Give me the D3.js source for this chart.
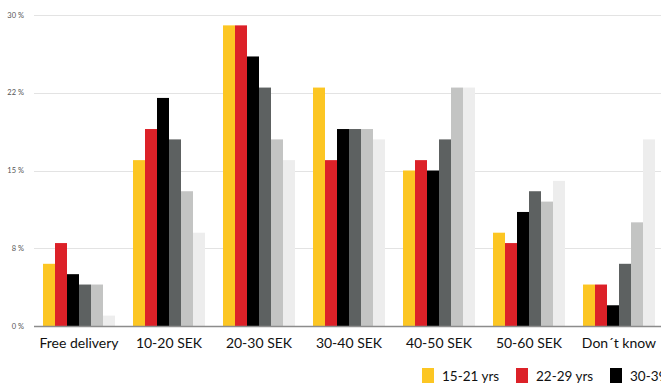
<!DOCTYPE html>
<html>
<head>
<meta charset="utf-8">
<script src="https://cdn.jsdelivr.net/npm/d3@7"></script>
<style>
  html, body { margin: 0; padding: 0; background: #fff; overflow: hidden; }
  svg { display: block; }
</style>
</head>
<body>
<svg id="chart" width="661" height="383"></svg>
<script>
// Price categories on the x axis
const categories = ["Free delivery", "10-20 SEK", "20-30 SEK", "30-40 SEK", "40-50 SEK", "50-60 SEK", "Don´t know"];
// Age groups (series)
const series = ["15-21 yrs", "22-29 yrs", "30-39 yrs", "40-49 yrs", "50-59 yrs", "60+ yrs"];
const seriesColors = ["#fcc623", "#dc2128", "#000000", "#5d6161", "#c3c4c3", "#ededed"];
// Share of respondents (%) per age group, one array per series, ordered by category
const age15to21 = [6, 16, 29, 23, 15, 9, 4];
const age22to29 = [8, 19, 29, 16, 16, 8, 4];
const age30to39 = [5, 22, 26, 19, 15, 11, 2];
const age40to49 = [4, 18, 23, 19, 18, 13, 6];
const age50to59 = [4, 13, 18, 19, 23, 12, 10];
const age60plus = [1, 9, 16, 18, 23, 14, 18];
const seriesValues = [age15to21, age22to29, age30to39, age40to49, age50to59, age60plus];
// Y axis ticks and their printed labels
const yTicks = [0, 7.5, 15, 22.5, 30];
const yTickLabels = ["0 %", "8 %", "15 %", "22 %", "30 %"];

const svg = d3.select("#chart");
const font = "Lato, 'Noto Sans', sans-serif";

const y = d3.scaleLinear().domain([0, 30]).range([326, 15]);
const x = d3.scaleBand().domain(categories).range([34, 664]).paddingInner(0.2).paddingOuter(0.1);
const xs = d3.scaleBand().domain(series).range([0, x.bandwidth()]);

// Horizontal gridlines
svg.append("g").selectAll("line")
  .data(yTicks.filter(t => t > 0))
  .join("line")
  .attr("x1", 34).attr("x2", 661)
  .attr("y1", d => Math.round(y(d)) + 0.5).attr("y2", d => Math.round(y(d)) + 0.5)
  .attr("stroke", "#e3e3e3").attr("stroke-width", 1.2);

// Y tick labels
svg.append("g").selectAll("text")
  .data(yTicks)
  .join("text")
  .attr("x", 24).attr("y", d => y(d) + 2.5)
  .attr("text-anchor", "end")
  .attr("font-family", font).attr("font-size", 7.5)
  .attr("fill", "#555")
  .text((d, i) => yTickLabels[i]);

// Bars
const groups = svg.append("g").selectAll("g")
  .data(categories)
  .join("g")
  .attr("transform", d => `translate(${x(d)},0)`);

groups.selectAll("rect")
  .data((c, ci) => series.map((s, si) => ({ s, si, v: seriesValues[si][ci] })))
  .join("rect")
  .attr("x", d => xs(d.s))
  .attr("width", xs.bandwidth())
  .attr("y", d => y(d.v))
  .attr("height", d => y(0) - y(d.v))
  .attr("fill", d => seriesColors[d.si]);

// Baseline
svg.append("line")
  .attr("x1", 34).attr("x2", 661)
  .attr("y1", y(0) + 0.5).attr("y2", y(0) + 0.5)
  .attr("stroke", "#8c8c8c").attr("stroke-width", 1.5);

// Category labels
svg.append("g").selectAll("text")
  .data(categories)
  .join("text")
  .attr("x", d => x(d) + x.bandwidth() / 2)
  .attr("y", 348)
  .attr("text-anchor", "middle")
  .attr("font-family", font).attr("font-size", 14)
  .attr("fill", "#111")
  .text(d => d);

// Legend (runs past the right edge of the frame)
const legend = svg.append("g").selectAll("g")
  .data(series)
  .join("g")
  .attr("transform", (d, i) => `translate(${422 + i * 94},368)`);
legend.append("rect")
  .attr("width", 12).attr("height", 16)
  .attr("fill", (d, i) => seriesColors[i]);
legend.append("text")
  .attr("x", 20).attr("y", 13)
  .attr("font-family", font).attr("font-size", 13.5)
  .attr("fill", "#111")
  .text(d => d);
</script>
</body>
</html>
